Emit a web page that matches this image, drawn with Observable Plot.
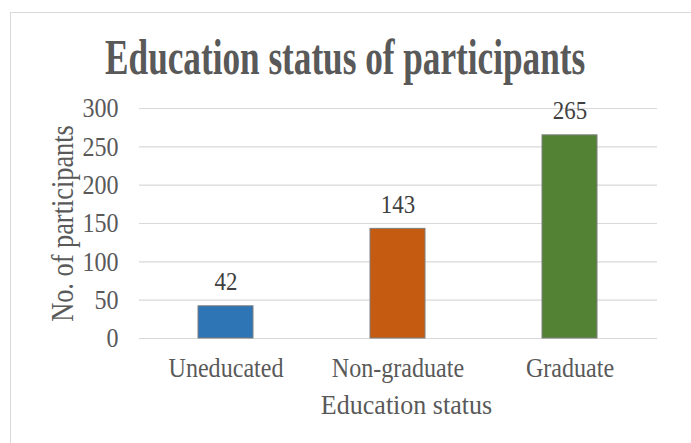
<!DOCTYPE html>
<html>
<head>
<meta charset="utf-8">
<script src="https://cdn.jsdelivr.net/npm/d3@7"></script>
<script src="https://cdn.jsdelivr.net/npm/@observablehq/plot@0.6"></script>
<style>
  html, body { margin: 0; padding: 0; background: #fff; overflow: hidden; }
  #wrap { position: relative; width: 691px; height: 443px; font-family: "Liberation Serif", "Times New Roman", serif; overflow: hidden; }
  #frame { position: absolute; left: 10px; top: 12px; width: 720px; height: 470px; border: 1px solid #d9d9d9; box-sizing: border-box; }
  #title { position: absolute; left: -2.5px; width: 691px; top: 31.6px; text-align: center; font-weight: bold; font-size: 51px; line-height: 51px; color: #595959; margin: 0; white-space: nowrap; transform: scaleX(0.69); transform-origin: 50% 50%; }
  #chart { position: absolute; left: 0; top: 0; }
</style>
</head>
<body>
<div id="wrap">
  <div id="frame"></div>
  <div id="chart"></div>
  <div id="title">Education status of participants</div>
</div>
<script>
const categories = ["Uneducated", "Non-graduate", "Graduate"];
const values = [42, 143, 265];
const colors = ["#2E75B6", "#C55A11", "#548235"];
const yTicks = [0, 50, 100, 150, 200, 250, 300];
const xTitle = "Education status";
const yTitle = "No. of participants";

const serif = "'Liberation Serif', 'Times New Roman', serif";
const data = categories.map((c, i) => ({category: c, value: values[i], color: colors[i]}));

const chart = Plot.plot({
  width: 691,
  height: 443,
  marginLeft: 139,
  marginRight: 34,
  marginTop: 108,
  marginBottom: 105,
  style: { fontFamily: serif, fontSize: "28px", color: "#595959", background: "transparent", overflow: "visible" },
  x: { domain: categories, paddingInner: 0.68, paddingOuter: 0.34 },
  y: { domain: [0, 300] },
  marks: [
    Plot.gridY(yTicks, { stroke: "#d9d9d9", strokeOpacity: 1, strokeWidth: 1.2 }),
    Plot.barY(data, { x: "category", y: "value", fill: "color", stroke: "#7f7f7f", strokeWidth: 1 }),
    Plot.text(data, { x: "category", y: "value", text: d => String(d.value), lineAnchor: "bottom", dy: -16, fill: "#404040", fontSize: 26, fontFamily: serif }),
    Plot.axisY({ ticks: yTicks, tickSize: 0, tickPadding: 21, fontSize: 28, fontFamily: serif, label: null }),
    Plot.axisX({ tickSize: 0, tickPadding: 19, fontSize: 28, fontFamily: serif, label: null }),
    Plot.text([xTitle], { frameAnchor: "bottom", textAnchor: "middle", lineAnchor: "bottom", dx: 8, dy: 75, fontSize: 28, fontFamily: serif, fill: "#595959" }),
    Plot.text([yTitle], { frameAnchor: "left", textAnchor: "middle", lineAnchor: "top", rotate: -90, dx: -89, fontSize: 31, fontFamily: serif, fill: "#595959" })
  ]
});
document.getElementById("chart").appendChild(chart);

// Condense text horizontally (narrow serif look of the original)
function condenseEls(els, s) {
  els.forEach(t => {
    const tr = t.getAttribute("transform") || "";
    const xa = parseFloat(t.getAttribute("x"));
    let extra = "";
    if (!isNaN(xa) && xa !== 0) { extra = ` translate(${xa},0)`; t.removeAttribute("x"); }
    t.setAttribute("transform", `${tr}${extra} scale(${s},1)`.trim());
  });
}
const textGroups = chart.querySelectorAll('g[aria-label="text"]');
condenseEls(chart.querySelectorAll('g[aria-label="y-axis tick label"] text'), 0.86);
condenseEls(chart.querySelectorAll('g[aria-label="x-axis tick label"] text'), 0.86);
if (textGroups[0]) condenseEls(textGroups[0].querySelectorAll("text"), 0.88);
if (textGroups[1]) condenseEls(textGroups[1].querySelectorAll("text"), 0.93);
if (textGroups[2]) condenseEls(textGroups[2].querySelectorAll("text"), 0.85);
</script>
</body>
</html>
